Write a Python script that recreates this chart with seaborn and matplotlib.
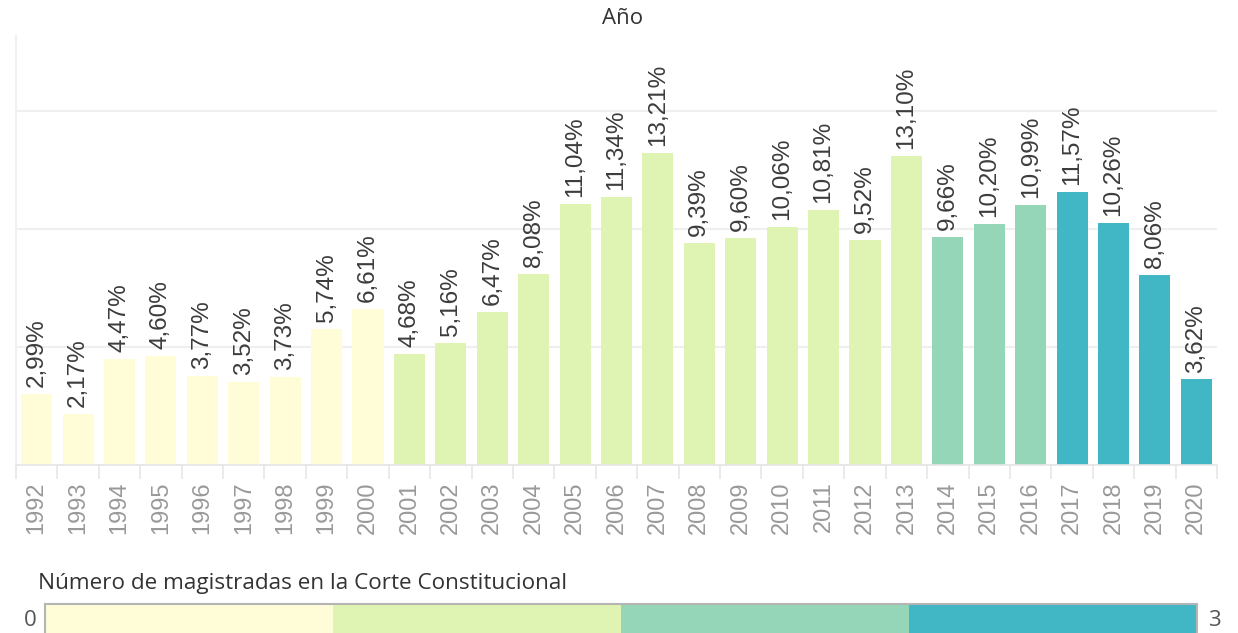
import matplotlib
matplotlib.use("Agg")
import matplotlib.pyplot as plt
import seaborn as sns
import pandas as pd
import numpy as np

years = [str(y) for y in range(1992, 2021)]
values = [2.99, 2.17, 4.47, 4.60, 3.77, 3.52, 3.73, 5.74, 6.61,
          4.68, 5.16, 6.47, 8.08, 11.04, 11.34, 13.21, 9.39, 9.60, 10.06,
          10.81, 9.52, 13.10, 9.66, 10.20, 10.99, 11.57, 10.26, 8.06, 3.62]
magistradas = [0]*9 + [1]*13 + [2]*3 + [3]*4
levels = [0, 1, 2, 3]
colors = ["#FEFDD8", "#DFF3B2", "#95D6B8", "#41B6C4"]

sns.set_theme(style="white")
plt.rcParams["font.family"] = ["Liberation Sans", "DejaVu Sans"]

df = pd.DataFrame({"Año": years, "Porcentaje": values, "Magistradas": magistradas})

fig = plt.figure(figsize=(12.38, 6.33), dpi=100)
W, H = 1238, 633
ax = fig.add_axes([16/W, 168/H, 1201/W, 429/H])

sns.barplot(data=df, x="Año", y="Porcentaje", hue="Magistradas",
            palette=dict(zip(levels, colors)), hue_order=levels,
            dodge=False, legend=False, width=0.75, ax=ax,
            edgecolor="none", saturation=1)

ax.set_xlim(-0.5, len(years) - 0.5)
ax.set_ylim(0, 18.16)
ax.set_yticks([0, 5, 10, 15])
ax.yaxis.grid(True, color="#EFEFEF", linewidth=1.5)
ax.set_axisbelow(True)
ax.tick_params(axis="y", left=False, labelleft=False)
ax.set_xlabel("")
ax.set_ylabel("")
for s in ["top", "right"]:
    ax.spines[s].set_visible(False)
ax.spines["left"].set_color("#F0F0F0")
ax.spines["left"].set_linewidth(1.5)
ax.spines["bottom"].set_color("#E6E6E6")
ax.spines["bottom"].set_linewidth(1.2)

ax.tick_params(axis="x", which="major", length=0, pad=12, labelsize=17,
               labelcolor="#999999", labelrotation=90)
ax.set_xticks(np.arange(-0.5, len(years), 1), minor=True)
ax.tick_params(axis="x", which="minor", length=10, width=1.2, color="#E6E6E6",
               bottom=True)

for i, v in enumerate(values):
    lbl = f"{v:.2f}".replace(".", ",") + "%"
    ax.annotate(lbl, (i, v), xytext=(0, 5), textcoords="offset points",
                rotation=90, ha="center", va="bottom", fontsize=17.5,
                color="#3C3C3C")

fig.text(623/W, 1 - 19/H, "Año", ha="center", va="center", fontsize=16,
         color="#333333", family=["Open Sans", "DejaVu Sans"])

fig.text(38/W, 1 - 584/H, "Número de magistradas en la Corte Constitucional",
         ha="left", va="center", fontsize=16.2, color="#333333",
         family=["Open Sans", "DejaVu Sans"])

lax = fig.add_axes([45/W, -3/H, 1152/W, 32/H])
for i, c in enumerate(colors):
    lax.barh(0, 1, left=i, height=1, color=c, edgecolor="none")
lax.set_xlim(0, 4)
lax.set_ylim(-0.5, 0.5)
lax.set_xticks([])
lax.set_yticks([])
for s in ["top", "left", "right"]:
    lax.spines[s].set_color("#B5B5B5")
    lax.spines[s].set_linewidth(1.5)
lax.spines["bottom"].set_visible(False)

fig.text(30/W, 1 - 621/H, "0", ha="center", va="center", fontsize=16,
         color="#555555", family=["Open Sans", "DejaVu Sans"])
fig.text(1214/W, 1 - 621/H, "3", ha="center", va="center", fontsize=16,
         color="#555555", family=["Open Sans", "DejaVu Sans"])

fig.savefig("out.png", dpi=100, facecolor="white")
